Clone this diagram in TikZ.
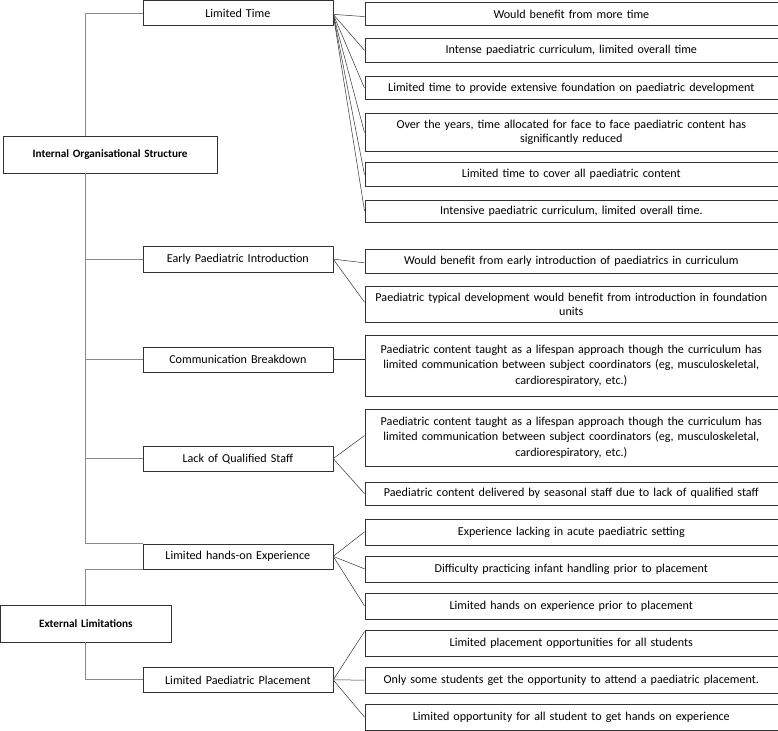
\documentclass[tikz,border=0pt]{standalone}
\usepackage{fontspec}
\setmainfont{Carlito}
\usetikzlibrary{calc}
\definecolor{trunk}{HTML}{8A8A8A}
\definecolor{edge}{HTML}{333333}
\tikzset{
  x=1pt,y=-1pt,
  box/.style={draw=edge,line width=0.7pt,fill=white,inner sep=0pt,align=center,anchor=north west,font=\fontsize{12.1}{15.5}\selectfont},
  rbox/.style={box,minimum width=413pt,text width=409pt},
  mbox/.style={box,minimum width=190pt,text width=186pt},
  rootbox/.style={box,font=\fontsize{11.2}{13}\selectfont\bfseries},
  tr/.style={draw=trunk,line width=0.8pt},
  br/.style={draw=edge,line width=0.5pt}
}
\begin{document}
\begin{tikzpicture}
\useasboundingbox (0,0) rectangle (778,730);
% root boxes
\node[rootbox,minimum width=214pt,minimum height=36.7pt,text width=210pt] (IOS) at (2.7,136) {Internal Organisational Structure};
\node[rootbox,minimum width=170pt,minimum height=37pt,text width=166pt] (EL) at (0.5,604.7) {External Limitations};
% middle boxes
\node[mbox,minimum height=25pt] (LT) at (142.5,0.5) {Limited Time};
\node[mbox,minimum height=25.5pt] (EPI) at (142.5,246) {Early Paediatric Introduction};
\node[mbox,minimum height=25.5pt] (CB) at (142.5,346.5) {Communication Breakdown};
\node[mbox,minimum height=24.5pt] (LQS) at (142.5,446) {Lack of Qualified Staff};
\node[mbox,minimum height=25pt] (LHE) at (142.5,543.5) {Limited hands-on Experience};
\node[mbox,minimum height=25pt] (LPP) at (142.5,667) {Limited Paediatric Placement};
% right boxes
\node[rbox,minimum height=23.5pt] (r1) at (364.5,2) {Would benefit from more time};
\node[rbox,minimum height=24pt] (r2) at (364.5,38) {Intense paediatric curriculum, limited overall time};
\node[rbox,minimum height=23.5pt] (r3) at (364.5,76) {Limited time to provide extensive foundation on paediatric development};
\node[rbox,minimum height=38.5pt,font=\fontsize{12.1}{14}\selectfont] (r4) at (364.5,113) {Over the years, time allocated for face to face paediatric content has\\significantly reduced};
\node[rbox,minimum height=23.5pt] (r5) at (364.5,162.5) {Limited time to cover all paediatric content};
\node[rbox,minimum height=22pt] (r6) at (364.5,199.5) {Intensive paediatric curriculum, limited overall time.};
\node[rbox,minimum height=24pt] (e1) at (364.5,248.5) {Would benefit from early introduction of paediatrics in curriculum};
\node[rbox,minimum height=36.5pt,font=\fontsize{12.1}{14}\selectfont] (e2) at (364.5,285.5) {Paediatric typical development would benefit from introduction in foundation\\units};
\node[rbox,minimum height=61.5pt] (c1) at (364.5,334.5) {Paediatric content taught as a lifespan approach though the curriculum has\\limited communication between subject coordinators (eg, musculoskeletal,\\cardiorespiratory, etc.)};
\node[rbox,minimum height=56.5pt] (q1) at (364.5,409) {Paediatric content taught as a lifespan approach though the curriculum has\\limited communication between subject coordinators (eg, musculoskeletal,\\cardiorespiratory, etc.)};
\node[rbox,minimum height=23.5pt] (q2) at (364.5,481.5) {Paediatric content delivered by seasonal staff due to lack of qualified staff};
\node[rbox,minimum height=26pt] (h1) at (364.5,518.5) {Experience lacking in acute paediatric setting};
\node[rbox,minimum height=26pt] (h2) at (364.5,555.5) {Difficulty practicing infant handling prior to placement};
\node[rbox,minimum height=26pt] (h3) at (364.5,592.5) {Limited hands on experience prior to placement};
\node[rbox,minimum height=25.5pt] (p1) at (364.5,630) {Limited placement opportunities for all students};
\node[rbox,minimum height=25.5pt] (p2) at (364.5,667) {Only some students get the opportunity to attend a paediatric placement.};
\node[rbox,minimum height=25.5pt] (p3) at (364.5,704) {Limited opportunity for all student to get hands on experience};
% trunk connectors
\coordinate (iosTop) at ([xshift=82.3pt]IOS.north west);
\coordinate (iosBot) at ([xshift=82.3pt]IOS.south west);
\draw[tr] (iosTop) |- (LT.west);
\draw[tr] (iosBot) |- (LHE.north west);
\draw[tr] (iosBot |- EPI.west) -- (EPI.west);
\draw[tr] (iosBot |- CB.west) -- (CB.west);
\draw[tr] (iosBot |- LQS.west) -- (LQS.west);
\draw[tr] (EL.north) |- (LHE.south west);
\draw[tr] (EL.south) |- (LPP.west);
% branch connectors
\draw[br] ([yshift=-1pt]LT.east) -- ([yshift=-2.5pt]r1.west);
\foreach \n in {r2,r3,r4,r5,r6} \draw[br] ([yshift=-1pt]LT.east) -- (\n.west);
\draw[br] (EPI.east) -- ([yshift=-2pt]e1.west);
\draw[br] (EPI.east) -- ([yshift=2pt]e2.west);
\draw[br] (CB.east) -- (CB.east -| c1.west);
\draw[br] (LQS.east) -- ([yshift=2pt]q1.west);
\draw[br] (LQS.east) -- (q2.west);
\foreach \n in {h1,h2,h3} \draw[br] (LHE.east) -- (\n.west);
\draw[br] (LPP.east) -- ([yshift=-1.5pt]p1.north west);
\draw[br] (LPP.east) -- (p2.west);
\draw[br] (LPP.east) -- (p3.west);
\end{tikzpicture}
\end{document}
